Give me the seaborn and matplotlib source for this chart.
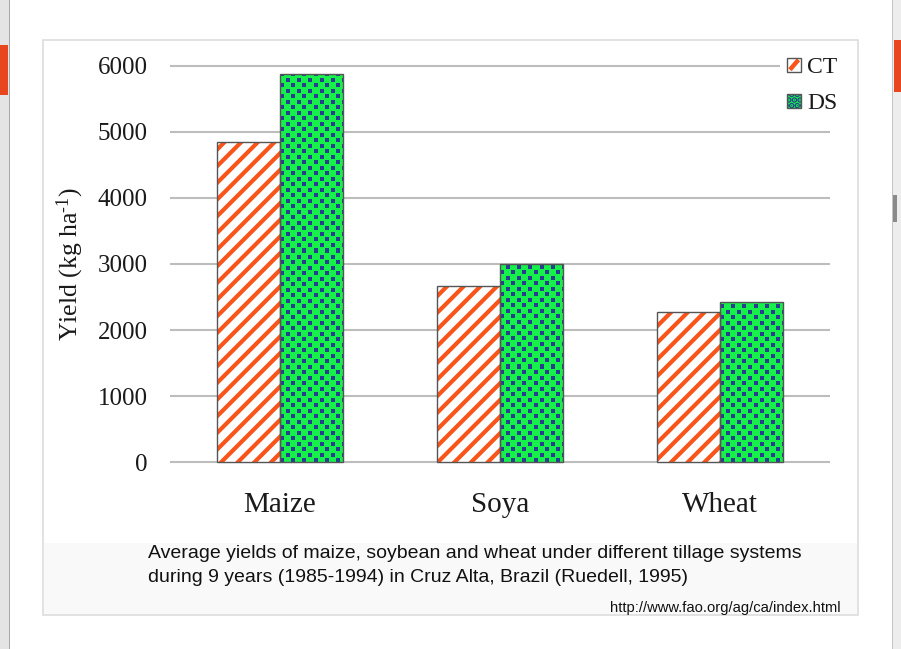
import numpy as np
import pandas as pd
import matplotlib
matplotlib.use("Agg")
import matplotlib.pyplot as plt
import seaborn as sns
from matplotlib.patches import Rectangle
from matplotlib.lines import Line2D
from matplotlib.legend_handler import HandlerBase

# Average yields (kg/ha), 1985-1994, Cruz Alta
crops = ["Maize", "Soya", "Wheat"]
systems = ["CT", "DS"]
ct_yield = [4850, 2670, 2280]
ds_yield = [5880, 3000, 2420]
y_ticks = [0, 1000, 2000, 3000, 4000, 5000, 6000]

caption_lines = [
    "Average yields of maize, soybean and wheat under different tillage systems",
    "during 9 years (1985-1994) in Cruz Alta, Brazil (Ruedell, 1995)",
]
source_url = "http://www.fao.org/ag/ca/index.html"

df = pd.DataFrame({
    "Crop": crops * 2,
    "System": ["CT"] * len(crops) + ["DS"] * len(crops),
    "Yield": ct_yield + ds_yield,
})

ORANGE = "#F9541A"
GREEN = "#17F04B"
NAVY = "#293E8E"
OUTLINE = "#555555"

sns.set_theme(style="white")
plt.rcParams["font.family"] = ["Liberation Serif", "DejaVu Serif"]
plt.rcParams["mathtext.fontset"] = "custom"
plt.rcParams["mathtext.rm"] = "Liberation Serif"
plt.rcParams["mathtext.it"] = "Liberation Serif:italic"
plt.rcParams["hatch.linewidth"] = 3.0

W, H = 901, 649
fig = plt.figure(figsize=(W / 100, H / 100), dpi=100)
fig.patch.set_facecolor("white")


def fx(px):
    return px / W


def fy(py):
    return 1 - py / H


def frect(x0, y0, x1, y1, **kw):
    r = Rectangle((fx(x0), fy(y1)), fx(x1) - fx(x0), fy(y0) - fy(y1),
                  transform=fig.transFigure, zorder=-5, **kw)
    fig.patches.append(r)
    return r


# window edges and slide fragments behind the chart panel
frect(0, 0, 9, H, facecolor="#E4E4E4", edgecolor="none")
frect(9, 0, 10, H, facecolor="#A8A8A8", edgecolor="none")
frect(893, 0, W, H, facecolor="#EDEDED", edgecolor="none")
frect(892, 0, 893, H, facecolor="#C4C4C4", edgecolor="none")
frect(0, 45, 8, 95, facecolor="#E8461E", edgecolor="none")
frect(894, 40, W, 92, facecolor="#E8461E", edgecolor="none")
frect(893, 195, 897, 222, facecolor="#8A8A8A", edgecolor="none")

# chart panel with caption band
frect(43, 40, 858, 615, facecolor="white", edgecolor="#DDDDDD", linewidth=1.2)
frect(44, 543, 857, 614, facecolor="#F9F9F9", edgecolor="none")

ax = fig.add_axes([fx(170), fy(466), fx(830) - fx(170), (466 - 62) / H])
ax.patch.set_alpha(0)

sns.barplot(data=df, x="Crop", y="Yield", hue="System", order=crops,
            hue_order=systems, palette=["white", GREEN], saturation=1,
            width=0.573, dodge=True, legend=False, ax=ax)

ax.set_ylim(-60, 6060)
ax.set_xlim(-0.5, len(crops) - 0.5)

# dotted texture for the DS bars, one texture pixel per screen pixel
fig.canvas.draw()
bbox = ax.get_window_extent()
tw, th = int(round(bbox.width)), int(round(bbox.height))
rr, cc = np.mgrid[0:th, 0:tw]
period, half, sq = 11, 5, 4
dots = (((rr % period) < sq) & ((cc % period) < sq)) | \
       ((((rr + half) % period) < sq) & (((cc + half) % period) < sq))
texture = np.empty((th, tw, 3))
texture[:] = matplotlib.colors.to_rgb(GREEN)
texture[dots] = matplotlib.colors.to_rgb(NAVY)

x0, x1 = ax.get_xlim()
y0, y1 = ax.get_ylim()

ct_bars, ds_bars = ax.containers[0], ax.containers[1]
for bar in ct_bars:
    bar.set_facecolor("white")
    bar.set_edgecolor(ORANGE)
    bar.set_hatch("//")
    bar.set_linewidth(0)
for bar in ds_bars:
    bar.set_linewidth(0)
    img = ax.imshow(texture, extent=(x0, x1, y0, y1), aspect="auto",
                    interpolation="nearest", origin="upper", zorder=bar.get_zorder() + 0.1)
    img.set_clip_path(bar)
for bar in list(ct_bars) + list(ds_bars):
    ax.add_patch(Rectangle((bar.get_x(), bar.get_y()), bar.get_width(), bar.get_height(),
                           fill=False, edgecolor=OUTLINE, linewidth=1.0,
                           zorder=bar.get_zorder() + 0.2))

ax.set_xlim(x0, x1)
ax.set_ylim(y0, y1)

ax.set_yticks(y_ticks)
ax.set_yticklabels([str(v) for v in y_ticks])
ax.yaxis.grid(True, color="#BDBDBD", linewidth=1.5)
ax.xaxis.grid(False)
ax.set_axisbelow(True)
for s in ax.spines.values():
    s.set_visible(False)
ax.tick_params(axis="y", length=0, pad=16, labelsize=18, labelcolor="#1A1A1A")
ax.tick_params(axis="x", length=0, pad=19, labelsize=21, labelcolor="#1A1A1A")
ax.set_xlabel("")
ax.set_ylabel(r"Yield (kg ha$^{\text{-1}}$)", fontsize=18.5, color="#1A1A1A")
ax.yaxis.set_label_coords((70 - 170) / 660, (466 - 264) / 404)
ax.yaxis.label.set_verticalalignment("center")


class SwatchHandler(HandlerBase):
    """Small square swatch: plain fill, optional diagonal stripe or dots, grey outline."""

    def __init__(self, face, mark=None, mark_color=None):
        super().__init__()
        self.face, self.mark, self.mark_color = face, mark, mark_color

    def create_artists(self, legend, orig_handle, xdescent, ydescent, width, height,
                       fontsize, trans):
        side = min(width, height)
        x, y = -xdescent + (width - side) / 2, -ydescent + (height - side) / 2
        artists = [Rectangle((x, y), side, side, facecolor=self.face, edgecolor="none",
                             transform=trans)]
        if self.mark == "stripe":
            artists.append(Line2D([x + side * 0.2, x + side * 0.8],
                                  [y + side * 0.15, y + side * 0.85],
                                  color=self.mark_color, linewidth=3.2,
                                  solid_capstyle="butt", transform=trans))
        elif self.mark == "dots":
            artists.append(Rectangle((x, y), side, side, facecolor="none", edgecolor=self.mark_color,
                                     hatch="...", linewidth=0, transform=trans))
        artists.append(Rectangle((x, y), side, side, fill=False, edgecolor=OUTLINE,
                                 linewidth=1.0, transform=trans))
        return artists


ct_key, ds_key = Rectangle((0, 0), 1, 1), Rectangle((0, 0), 1, 1)
leg = ax.legend([ct_key, ds_key], systems, loc="upper left",
                handler_map={ct_key: SwatchHandler("white", "stripe", ORANGE),
                             ds_key: SwatchHandler(GREEN, "dots", NAVY)},
                bbox_to_anchor=(fx(780), fy(50)), bbox_transform=fig.transFigure,
                fontsize=17, frameon=True, facecolor="white", edgecolor="none",
                framealpha=1, borderpad=0.3, borderaxespad=0, handlelength=0.6,
                handleheight=0.6, handletextpad=0.25, labelspacing=0.63)
for t in leg.get_texts():
    t.set_color("#1A1A1A")

# caption and source
for i, line in enumerate(caption_lines):
    fig.text(fx(148), fy(558 + 24 * i), line, family=["Liberation Sans", "DejaVu Sans"],
             fontsize=14, color="#111111", ha="left", va="baseline")
fig.text(fx(841), fy(612), source_url, family=["Liberation Sans", "DejaVu Sans"],
         fontsize=10.6, color="#111111", ha="right", va="baseline")

fig.savefig("out.png", dpi=100)
